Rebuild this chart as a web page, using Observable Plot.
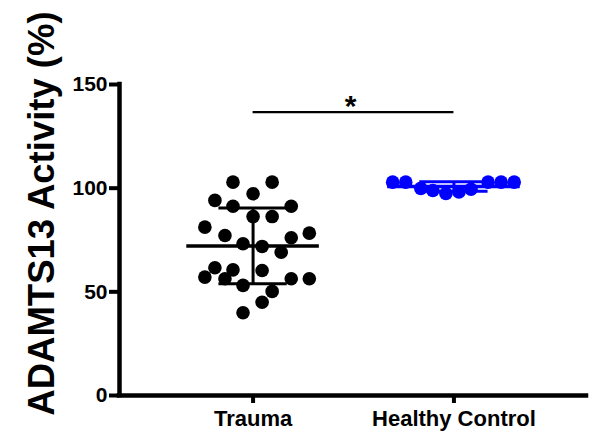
<!DOCTYPE html>
<html>
<head>
<meta charset="utf-8">
<script src="https://cdn.jsdelivr.net/npm/d3@7"></script>
<script src="https://cdn.jsdelivr.net/npm/@observablehq/plot@0.6"></script>
<style>
  body { margin: 0; background: #fff; }
  #chart svg { display: block; }
</style>
</head>
<body>
<div id="chart"></div>
<script>
// Group names (x tick labels)
const groups = ["Trauma", "Healthy Control"];

// ADAMTS13 activity (%) per subject, with horizontal scatter offsets
const traumaValues = [102.9, 102.9, 97.3, 94.1, 91.3, 91.3, 86.3, 86.3, 81.2, 77.2, 78.3, 76.1, 73.2,
                      71.9, 69.1, 61.6, 60.6, 60.3, 57.1, 56.3, 56.3, 56.3, 53.1, 50.2, 45.0, 39.9];
const traumaOffsets = [-0.10, 0.095, 0, -0.19, -0.10, 0.19, 0, 0.095, -0.24, -0.14, 0.28, 0.19, -0.05,
                       0.045, 0.14, -0.19, -0.10, 0.045, -0.24, -0.14, 0.19, 0.28, -0.05, 0.095, 0.045, -0.05];

const controlValues = [102.9, 102.9, 99.9, 98.9, 97.4, 98.2, 99.5, 102.9, 102.9, 102.9];
const controlOffsets = [-0.305, -0.24, -0.165, -0.105, -0.04, 0.025, 0.085, 0.17, 0.235, 0.30];

const groupColors = ["#000000", "#0000ff"];
const yTicks = [0, 50, 100, 150];
const bracketY = 136.7;
const significance = "*";
const yLabel = "ADAMTS13 Activity (%)";

const font = "'Liberation Sans', Arial, Helvetica, sans-serif";
const xDomain = [0.335, 2.66];

const points = [
  ...traumaValues.map((v, i) => ({g: 0, x: 1 + traumaOffsets[i], y: v})),
  ...controlValues.map((v, i) => ({g: 1, x: 2 + controlOffsets[i], y: v}))
];

// mean ± SD per group
const stats = [traumaValues, controlValues].map((vals, i) => {
  const m = d3.mean(vals), sd = d3.deviation(vals);
  return {g: i, x: i + 1, mean: m, lo: m - sd, hi: m + sd};
});

const chart = Plot.plot({
  width: 596,
  height: 433,
  marginLeft: 119,
  marginRight: 10,
  marginTop: 84,
  marginBottom: 38,
  style: {fontFamily: font, background: "#fff", overflow: "visible"},
  x: {domain: xDomain, axis: null},
  y: {domain: [0, 150], axis: null},
  marks: [
    // data points
    Plot.dot(points, {x: "x", y: "y", r: 6.8, fill: d => groupColors[d.g], stroke: "none"}),
    // mean line
    Plot.ruleY(stats, {y: "mean", x1: d => d.x - 0.33, x2: d => d.x + 0.33,
      stroke: d => groupColors[d.g], strokeWidth: 3.5}),
    // SD whiskers
    Plot.ruleX(stats, {x: "x", y1: "lo", y2: "hi", stroke: d => groupColors[d.g], strokeWidth: 3}),
    Plot.ruleY(stats, {y: "hi", x1: d => d.x - 0.17, x2: d => d.x + 0.17,
      stroke: d => groupColors[d.g], strokeWidth: 3}),
    Plot.ruleY(stats, {y: "lo", x1: d => d.x - 0.17, x2: d => d.x + 0.17,
      stroke: d => groupColors[d.g], strokeWidth: 3}),
    // significance bracket
    Plot.ruleY([bracketY], {x1: 1, x2: 2, strokeWidth: 2.2}),
    Plot.text([significance], {x: 1.485, y: bracketY, lineAnchor: "bottom", dy: 4,
      fontSize: 30, fontWeight: "bold", fill: "#000"}),
    // axes
    Plot.axisY({ticks: yTicks, tickSize: 10, tickPadding: 2, fontSize: 21, fontWeight: "bold",
      strokeWidth: 4, label: null, fill: "#000"}),
    Plot.axisX({ticks: [1, 2], tickFormat: d => groups[d - 1], tickSize: 8, tickPadding: 7,
      fontSize: 22, fontWeight: "bold", strokeWidth: 4, label: null, fill: "#000"}),
    Plot.ruleX([xDomain[0]], {y1: 0, y2: 150, strokeWidth: 4.5, strokeLinecap: "square"}),
    Plot.ruleY([0], {strokeWidth: 4.5, strokeLinecap: "square"}),
    // y-axis title
    Plot.text([yLabel], {frameAnchor: "left", rotate: -90, lineAnchor: "bottom", textAnchor: "middle",
      dx: -66, dy: -26.5, fontSize: 36.5, fontWeight: "bold", fill: "#000"})
  ]
});

document.getElementById("chart").append(chart);
</script>
</body>
</html>
